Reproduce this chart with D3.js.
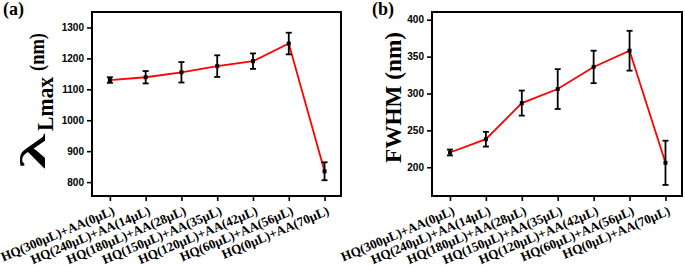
<!DOCTYPE html>
<html>
<head>
<meta charset="utf-8">
<script src="https://cdn.jsdelivr.net/npm/d3@7"></script>
<style>
  body { margin: 0; background: #fff; }
  svg { display: block; }
</style>
</head>
<body>
<svg id="chart" width="685" height="266"></svg>
<script>
const categories = ["HQ(300μL)+AA(0μL)", "HQ(240μL)+AA(14μL)", "HQ(180μL)+AA(28μL)",
  "HQ(150μL)+AA(35μL)", "HQ(120μL)+AA(42μL)", "HQ(60μL)+AA(56μL)", "HQ(0μL)+AA(70μL)"];
const lambdaValues = [1130, 1139, 1155, 1175, 1191, 1248, 835];
const lambdaErrors = [9, 20, 33, 35, 25, 35, 29];
const fwhmValues = [220, 238, 287, 306, 336, 358, 206];
const fwhmErrors = [4, 10, 17, 27, 22, 27, 30];
const lambdaTicks = [800, 900, 1000, 1100, 1200, 1300];
const fwhmTicks = [200, 250, 300, 350, 400];

const svg = d3.select("#chart");
const serif = "'Liberation Serif', 'Times New Roman', serif";
const sans = "'Liberation Sans', Arial, sans-serif";

function panel(opts) {
  const { left, right, top, bottom, values, errors, yDomain, ticks } = opts;
  const g = svg.append("g");
  const x = d3.scaleLinear().domain([-0.5, 6.46]).range([left, right]);
  const y = d3.scaleLinear().domain(yDomain).range([bottom, top]);

  const yAxis = d3.axisLeft(y).tickValues(ticks).tickSize(5).tickPadding(3).tickFormat(d3.format("d"));
  const ya = g.append("g").attr("transform", `translate(${left},0)`).call(yAxis);
  ya.select(".domain").remove();
  ya.selectAll(".tick line").attr("stroke", "#000").attr("stroke-width", 1.6);
  ya.selectAll(".tick text").attr("font-family", sans).attr("font-weight", "bold")
    .attr("font-size", 10).attr("fill", "#000");

  const xAxis = d3.axisBottom(x).tickValues(d3.range(categories.length)).tickSize(5)
    .tickFormat(i => categories[i]);
  const xa = g.append("g").attr("transform", `translate(0,${bottom})`).call(xAxis);
  xa.select(".domain").remove();
  xa.selectAll(".tick line").attr("stroke", "#000").attr("stroke-width", 1.6);
  xa.selectAll(".tick text")
    .attr("font-family", serif).attr("font-weight", "bold").attr("font-size", 13)
    .attr("fill", "#000").attr("text-anchor", "end")
    .attr("x", 0).attr("y", 0).attr("dy", 0)
    .attr("transform", "translate(5,18) rotate(-23)");

  g.append("rect").attr("x", left).attr("y", top)
    .attr("width", right - left).attr("height", bottom - top)
    .attr("fill", "none").attr("stroke", "#000").attr("stroke-width", 2);

  const line = d3.line().x((d, i) => x(i)).y(d => y(d));
  g.append("path").datum(values).attr("d", line)
    .attr("fill", "none").attr("stroke", "#ff0000").attr("stroke-width", 1.8);

  const eb = g.append("g").selectAll("g").data(values).join("g");
  eb.append("line")
    .attr("x1", (d, i) => x(i)).attr("x2", (d, i) => x(i))
    .attr("y1", (d, i) => y(d - errors[i])).attr("y2", (d, i) => y(d + errors[i]))
    .attr("stroke", "#000").attr("stroke-width", 1.8);
  [-1, 1].forEach(s => {
    eb.append("line")
      .attr("x1", (d, i) => x(i) - 3).attr("x2", (d, i) => x(i) + 3)
      .attr("y1", (d, i) => y(d + s * errors[i])).attr("y2", (d, i) => y(d + s * errors[i]))
      .attr("stroke", "#000").attr("stroke-width", 1.8);
  });
  eb.append("rect")
    .attr("x", (d, i) => x(i) - 2).attr("y", d => y(d) - 2)
    .attr("width", 4).attr("height", 4).attr("fill", "#000");
  return g;
}

panel({ left: 92, right: 341, top: 12, bottom: 196, values: lambdaValues, errors: lambdaErrors,
  yDomain: [755, 1350], ticks: lambdaTicks });
panel({ left: 432, right: 682, top: 12, bottom: 196, values: fwhmValues, errors: fwhmErrors,
  yDomain: [161, 410.5], ticks: fwhmTicks });

svg.append("text").attr("x", 3).attr("y", 15).attr("font-family", serif).attr("font-weight", "bold")
  .attr("font-size", 18).attr("fill", "#000").text("(a)");
svg.append("text").attr("x", 372).attr("y", 15).attr("font-family", serif).attr("font-weight", "bold")
  .attr("font-size", 18).attr("fill", "#000").text("(b)");

const ta = svg.append("g").attr("transform", "rotate(-90)");
ta.append("text").attr("x", -169).attr("y", 45).attr("font-family", serif).attr("font-weight", "bold")
  .attr("font-size", 36).attr("textLength", 35).attr("lengthAdjust", "spacingAndGlyphs")
  .attr("fill", "#000").text("λ");
ta.append("text").attr("x", -131).attr("y", 53).attr("font-family", serif).attr("font-weight", "bold")
  .attr("font-size", 24).attr("textLength", 54).attr("lengthAdjust", "spacingAndGlyphs")
  .attr("fill", "#000").text("Lmax");
ta.append("text").attr("x", -71).attr("y", 44).attr("font-family", serif).attr("font-weight", "bold")
  .attr("font-size", 20).attr("textLength", 38).attr("lengthAdjust", "spacingAndGlyphs")
  .attr("fill", "#000").text("(nm)");

svg.append("text").attr("transform", "rotate(-90)").attr("x", -163).attr("y", 401)
  .attr("font-family", serif).attr("font-weight", "bold").attr("font-size", 24)
  .attr("textLength", 131).attr("lengthAdjust", "spacingAndGlyphs")
  .attr("fill", "#000").text("FWHM (nm)");
</script>
</body>
</html>
